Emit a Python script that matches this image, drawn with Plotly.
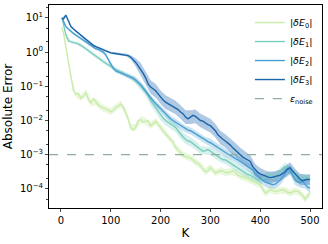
import numpy as np
import plotly.graph_objects as go

# K grid: first point 2, then 5,10,...,500
K = [2] + list(range(5, 501, 5))
K_band = K[::2]  # 2,10,20,...,500

# log10 of |dE_i|
E0_log = [0.72, 0.58, 0.14, -0.3, -0.74, -1.12, -1.24, -1.2, -1.35, -1.3,
          -1.18, -1.4, -1.48, -1.36, -1.45, -1.55, -1.6, -1.62, -1.66, -1.7,
          -1.74, -1.7, -1.62, -1.58, -1.52, -1.6, -1.75, -1.95, -2.2, -2.28,
          -2.2, -2.0, -1.97, -2.05, -2.02, -2.0, -2.15, -2.1, -2.02, -2.1,
          -2.2, -2.32, -2.4, -2.5, -2.55, -2.62, -2.78, -2.86, -2.95, -3.02,
          -3.05, -3.07, -3.1, -3.15, -3.22, -3.25, -3.32, -3.42, -3.5, -3.48,
          -3.38, -3.45, -3.53, -3.5, -3.47, -3.48, -3.52, -3.53, -3.5, -3.47,
          -3.52, -3.6, -3.63, -3.65, -3.68, -3.7, -3.74, -3.77, -3.8, -3.84,
          -3.88, -4.0, -4.12, -4.08, -4.02, -4.05, -4.08, -4.06, -4.04, -4.02,
          -4.05, -4.1, -4.12, -4.08, -4.06, -4.07, -4.12, -4.18, -4.3, -4.2,
          -4.12]
E1_log = [1.02, 0.8, 0.5, 0.33, 0.3, 0.28, 0.27, 0.24, 0.2, 0.15,
          0.1, 0.05, 0.0, -0.06, -0.12, -0.17, -0.22, -0.28, -0.33, -0.38,
          -0.42, -0.46, -0.5, -0.54, -0.58, -0.62, -0.65, -0.68, -0.72, -0.76,
          -0.82, -0.9, -1.0, -1.08, -1.15, -1.3, -1.42, -1.52, -1.62, -1.75,
          -1.85, -1.93, -2.0, -2.05, -2.1, -2.15, -2.2, -2.3, -2.4, -2.48,
          -2.55, -2.6, -2.62, -2.68, -2.72, -2.8, -2.86, -2.9, -2.88, -2.85,
          -2.9, -2.95, -3.0, -3.05, -3.1, -3.15, -3.15, -3.2, -3.25, -3.3,
          -3.35, -3.4, -3.45, -3.5, -3.55, -3.58, -3.6, -3.65, -3.7, -3.75,
          -3.72, -3.7, -3.65, -3.62, -3.6, -3.62, -3.65, -3.6, -3.5, -3.4,
          -3.35, -3.38, -3.45, -3.55, -3.62, -3.68, -3.7, -3.72, -3.68, -3.65,
          -3.7]
E2_log = [1.0, 0.92, 0.75, 0.68, 0.6, 0.55, 0.5, 0.45, 0.4, 0.35,
          0.3, 0.26, 0.22, 0.16, 0.1, 0.08, 0.05, 0.0, -0.08, -0.2,
          -0.35, -0.48, -0.55, -0.58, -0.6, -0.63, -0.66, -0.7, -0.73, -0.76,
          -0.82, -0.88, -0.95, -1.05, -1.15, -1.25, -1.35, -1.42, -1.5, -1.58,
          -1.65, -1.72, -1.8, -1.88, -1.95, -2.0, -2.05, -2.1, -2.15, -2.2,
          -2.25, -2.28, -2.3, -2.35, -2.4, -2.45, -2.48, -2.52, -2.58, -2.62,
          -2.65, -2.7, -2.75, -2.8, -2.85, -2.9, -2.95, -2.98, -3.02, -3.06,
          -3.1, -3.15, -3.2, -3.25, -3.3, -3.35, -3.4, -3.45, -3.55, -3.62,
          -3.7, -3.75, -3.8, -3.82, -3.85, -3.88, -3.86, -3.8, -3.75, -3.65,
          -3.55, -3.4, -3.45, -3.6, -3.75, -3.8, -3.82, -3.78, -3.85, -3.95,
          -3.98]
E3_log = [0.98, 0.97, 1.08, 0.9, 0.75, 0.68, 0.62, 0.55, 0.48, 0.42,
          0.36, 0.3, 0.25, 0.2, 0.16, 0.13, 0.11, 0.08, 0.03, 0.0,
          -0.02, -0.03, -0.04, -0.05, -0.06, -0.07, -0.08, -0.1, -0.15, -0.22,
          -0.3, -0.4, -0.5, -0.62, -0.75, -0.93, -1.02, -1.07, -1.13, -1.22,
          -1.32, -1.4, -1.46, -1.5, -1.55, -1.58, -1.62, -1.68, -1.75, -1.8,
          -1.9, -1.95, -1.9, -1.85, -1.88, -1.95, -2.0, -2.02, -2.08, -2.12,
          -2.15, -2.22, -2.3, -2.42, -2.5, -2.55, -2.6, -2.65, -2.72, -2.8,
          -2.86, -2.92, -3.0, -3.07, -3.12, -3.15, -3.2, -3.35, -3.45, -3.52,
          -3.56, -3.6, -3.62, -3.65, -3.67, -3.66, -3.64, -3.62, -3.6, -3.55,
          -3.5, -3.42, -3.38, -3.48, -3.57, -3.65, -3.72, -3.76, -3.74, -3.72,
          -3.73]

# band half-widths (decades) at K_band
E0_band = [0.03, 0.05, 0.06, 0.08, 0.08, 0.1, 0.1, 0.1, 0.1, 0.1,
           0.1, 0.1, 0.1, 0.1, 0.1, 0.1, 0.1, 0.1, 0.1, 0.1,
           0.1, 0.1, 0.1, 0.1, 0.1, 0.1, 0.1, 0.1, 0.1, 0.1,
           0.1, 0.1, 0.1, 0.1, 0.1, 0.1, 0.1, 0.1, 0.1, 0.1,
           0.1, 0.1, 0.1, 0.1, 0.1, 0.1, 0.1, 0.1, 0.1, 0.1, 0.1]
E1_band = [0.03, 0.03, 0.04, 0.04, 0.05, 0.05, 0.05, 0.05, 0.06, 0.06,
           0.06, 0.06, 0.06, 0.06, 0.08, 0.1, 0.12, 0.12, 0.14, 0.14,
           0.14, 0.14, 0.14, 0.14, 0.14, 0.14, 0.13, 0.13, 0.12, 0.12,
           0.12, 0.12, 0.12, 0.12, 0.12, 0.12, 0.12, 0.12, 0.12, 0.12,
           0.12, 0.12, 0.12, 0.12, 0.12, 0.12, 0.12, 0.12, 0.12, 0.12, 0.12]
E2_band = [0.03, 0.03, 0.03, 0.03, 0.03, 0.04, 0.04, 0.04, 0.05, 0.05,
           0.06, 0.06, 0.06, 0.06, 0.07, 0.08, 0.08, 0.08, 0.09, 0.09,
           0.1, 0.1, 0.1, 0.1, 0.1, 0.1, 0.1, 0.1, 0.1, 0.1,
           0.12, 0.12, 0.12, 0.12, 0.12, 0.12, 0.13, 0.13, 0.13, 0.13,
           0.14, 0.14, 0.14, 0.14, 0.14, 0.14, 0.14, 0.14, 0.14, 0.14, 0.14]
E3_band = [0.03, 0.03, 0.03, 0.03, 0.03, 0.03, 0.03, 0.03, 0.03, 0.03,
           0.03, 0.03, 0.03, 0.04, 0.06, 0.12, 0.18, 0.2, 0.2, 0.2,
           0.2, 0.2, 0.2, 0.2, 0.2, 0.2, 0.2, 0.2, 0.2, 0.2,
           0.2, 0.2, 0.2, 0.2, 0.2, 0.2, 0.2, 0.2, 0.18, 0.18,
           0.17, 0.16, 0.16, 0.16, 0.16, 0.16, 0.16, 0.16, 0.16, 0.15, 0.15]

eps_noise = 1e-3

names = ["|<i>δE</i><sub>0</sub>|", "|<i>δE</i><sub>1</sub>|",
         "|<i>δE</i><sub>2</sub>|", "|<i>δE</i><sub>3</sub>|"]
colors = ["#c9ecaa", "#79cdc0", "#4a9fd2", "#1a65ab"]
fills = ["rgba(201,236,170,0.4)", "rgba(121,205,192,0.3)",
         "rgba(74,159,210,0.3)", "rgba(26,101,171,0.35)"]
series = [E0_log, E1_log, E2_log, E3_log]
bands = [E0_band, E1_band, E2_band, E3_band]

fig = go.Figure()
for s, b, f in zip(series, bands, fills):
    c = np.array(s)[::2]
    w = np.array(b)
    fig.add_trace(go.Scatter(x=K_band, y=10 ** (c - w), mode="lines",
                             line=dict(width=0), showlegend=False, hoverinfo="skip"))
    fig.add_trace(go.Scatter(x=K_band, y=10 ** (c + w), mode="lines",
                             line=dict(width=0), fill="tonexty", fillcolor=f,
                             showlegend=False, hoverinfo="skip"))
for s, n, col in zip(series, names, colors):
    fig.add_trace(go.Scatter(x=K, y=10 ** np.array(s), mode="lines", name=n,
                             line=dict(color=col, width=1.4)))
fig.add_trace(go.Scatter(x=[-24, 524], y=[eps_noise, eps_noise], mode="lines",
                         name="<i>ε</i><sub>noise</sub>",
                         line=dict(color="#8fae9e", width=1.2, dash="dash")))

tickvals = [1e-4, 1e-3, 1e-2, 1e-1, 1, 10]
ticktext = ["10<sup>−4</sup>", "10<sup>−3</sup>", "10<sup>−2</sup>",
            "10<sup>−1</sup>", "10<sup>0</sup>", "10<sup>1</sup>"]

fig.update_layout(
    width=328, height=244,
    margin=dict(l=49, r=6, t=5, b=36),
    paper_bgcolor="white", plot_bgcolor="white",
    font=dict(family="DejaVu Sans", size=10, color="black"),
    legend=dict(x=0.985, xanchor="right", y=0.985, yanchor="top",
                traceorder="normal",
                bgcolor="rgba(255,255,255,0)", font=dict(size=9.5),
                itemwidth=30, tracegroupgap=0),
    showlegend=True,
)
fig.update_xaxes(range=[-24, 524], tickvals=[0, 100, 200, 300, 400, 500],
                 ticks="outside", ticklen=3, showline=True, linecolor="black",
                 linewidth=1, mirror=True, showgrid=False, zeroline=False,
                 automargin=False, tickfont=dict(size=10),
                 title=dict(text="K", standoff=3))
fig.update_yaxes(type="log", range=[-4.56, 1.38], tickvals=tickvals,
                 ticktext=ticktext, ticks="outside", ticklen=3, showline=True,
                 linecolor="black", linewidth=1, mirror=True, showgrid=False,
                 zeroline=False, minor=dict(ticks="outside", ticklen=2),
                 automargin=False, tickfont=dict(size=10),
                 title=dict(text="Absolute Error", standoff=4))

fig.write_html("out.html", config={"displayModeBar": False},
               post_script="document.body.style.margin='0';document.body.style.overflow='hidden';")
